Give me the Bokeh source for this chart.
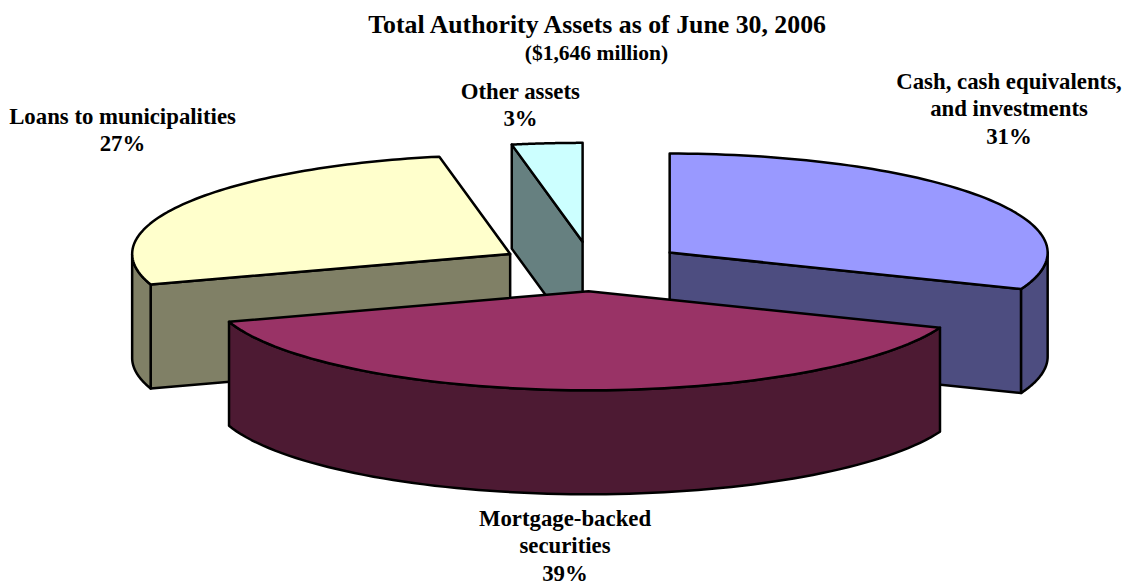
import numpy as np
from bokeh.plotting import figure
from bokeh.core.properties import value
from bokeh.embed import file_html
from bokeh.resources import INLINE

# ---- data ----
categories = ["Cash, cash equivalents, and investments", "Mortgage-backed securities",
              "Loans to municipalities", "Other assets"]
shares = [31, 39, 27, 3]
explode = [0.25, 0.25, 0.25, 0.25]
top_colors = ["#9999FF", "#993366", "#FFFFCC", "#CCFFFF"]
wall_colors = ["#4D4D80", "#4D1A33", "#808066", "#668080"]
title_text = "Total Authority Assets as of June 30, 2006"
subtitle_text = "($1,646 million)"

# ---- layout / projection ----
W, H = 1128, 586
CX, CY, A, B, DEPTH = 591.0, 266.0, 378.0, 99.0, 104.0
LW = 2.5


def rim(apex, t0, t1, n=80):
    t = np.radians(np.linspace(t0, t1, n))
    return apex[0] + A * np.sin(t), apex[1] - B * np.cos(t)


p = figure(width=W, height=H, x_range=(0, W), y_range=(H, 0),
           toolbar_location=None, output_backend="svg", min_border=0,
           outline_line_color=None, background_fill_color="white")
p.axis.visible = False
p.grid.visible = False

edges = np.cumsum([0] + shares) * 3.6
slices = []
for i in range(len(shares)):
    t0, t1 = edges[i], edges[i + 1]
    mid = np.radians((t0 + t1) / 2)
    apex = (CX + explode[i] * A * np.sin(mid), CY - explode[i] * B * np.cos(mid))
    slices.append((i, t0, t1, apex))


def draw_wall(xs, ys, color):
    xs, ys = np.asarray(xs), np.asarray(ys)
    px = np.concatenate([xs, xs[::-1]])
    py = np.concatenate([ys, ys[::-1] + DEPTH])
    p.patch(px, py, fill_color=color, line_color="black", line_width=LW, line_join="round")


for i in [3, 2, 0, 1]:
    _, t0, t1, apex = slices[i]
    # cut faces that look towards the viewer
    if np.cos(np.radians(t1)) < 0 and np.sin(np.radians(t1)) > 0:
        ex, ey = rim(apex, t1, t1, 1)
        draw_wall([apex[0], ex[0]], [apex[1], ey[0]], wall_colors[i])
    if np.sin(np.radians(t0)) < 0:
        ex, ey = rim(apex, t0, t0, 1)
        draw_wall([apex[0], ex[0]], [apex[1], ey[0]], wall_colors[i])
    # curved outer wall: the part of the rim in front
    lo, hi = max(t0, 90), min(t1, 270)
    if lo < hi:
        rx, ry = rim(apex, lo, hi)
        draw_wall(rx, ry, wall_colors[i])
    # top face
    rx, ry = rim(apex, t0, t1)
    p.patch(np.r_[apex[0], rx], np.r_[apex[1], ry], fill_color=top_colors[i],
            line_color="black", line_width=LW, line_join="round")

FONT = value("Liberation Serif")


def label(x, y, lines, size):
    for k, s in enumerate(lines):
        p.text([x], [y + k * 27.3], text=[s], text_font=FONT, text_font_style="bold",
               text_font_size=size, text_align="center", text_baseline="middle",
               text_color="black")


p.text([598], [24], text=[title_text], text_font=FONT, text_font_style="bold",
       text_font_size="25.8px", text_align="center", text_baseline="middle", text_color="black")
p.text([596], [52], text=[subtitle_text], text_font=FONT, text_font_style="bold",
       text_font_size="21.5px", text_align="center", text_baseline="middle", text_color="black")
label(1008.5, 81, ["Cash, cash equivalents,", "and investments", "31%"], "22.8px")
label(122, 116, ["Loans to municipalities", "27%"], "22.8px")
label(520, 91, ["Other assets", "3%"], "22.8px")
label(564.5, 518, ["Mortgage-backed", "securities", "39%"], "22.8px")

open("out.html", "w").write(file_html(p, INLINE))
